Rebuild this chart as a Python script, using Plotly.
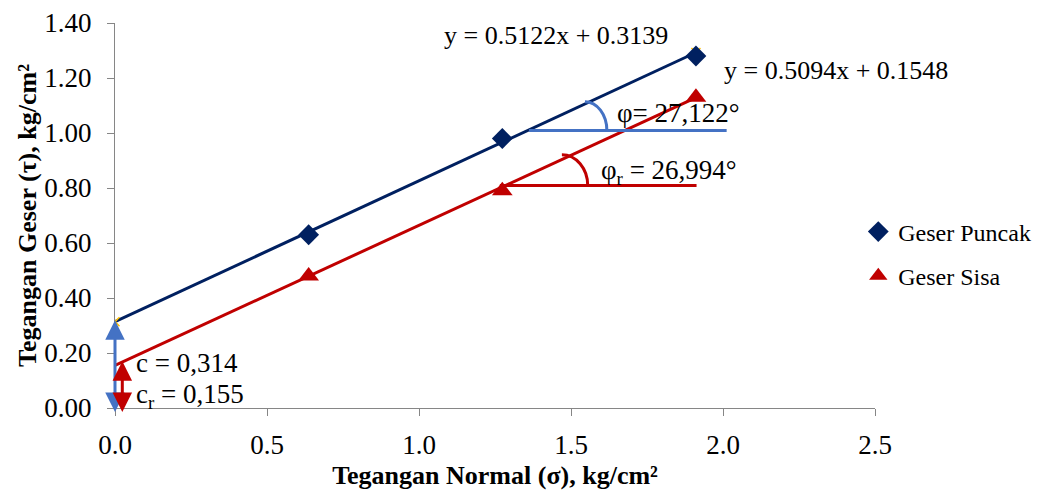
import numpy as np
import plotly.graph_objects as go

# ---- data ----
sigma = [0.637, 1.274, 1.911]               # normal stress, kg/cm2
tau_peak = [0.63, 0.98, 1.28]               # Geser Puncak
tau_resid = [0.48, 0.79, 1.13]              # Geser Sisa
slope_peak, icpt_peak = 0.5122, 0.3139
slope_resid, icpt_resid = 0.5094, 0.1548
c_peak, c_resid = 0.314, 0.155
phi_peak, phi_resid = "27,122", "26,994"
x_ticks = [0.0, 0.5, 1.0, 1.5, 2.0, 2.5]
y_ticks = [0.0, 0.2, 0.4, 0.6, 0.8, 1.0, 1.2, 1.4]

NAVY = "#002060"
RED = "#C00000"
LBLUE = "#4472C4"
YEL = "#FFC000"
FONT = "Liberation Serif"

fig = go.Figure()

# trendlines (from fitted equations)
xfit = np.array([0.0, sigma[-1]])
fig.add_trace(go.Scatter(x=xfit, y=slope_peak * xfit + icpt_peak, mode="lines",
                         line=dict(color=NAVY, width=3), showlegend=False, hoverinfo="skip"))
fig.add_trace(go.Scatter(x=xfit, y=slope_resid * xfit + icpt_resid, mode="lines",
                         line=dict(color=RED, width=3), showlegend=False, hoverinfo="skip"))
# small trendline end markers
fig.add_trace(go.Scatter(x=xfit, y=slope_peak * xfit + icpt_peak, mode="markers",
                         marker=dict(symbol="x-thin", size=9, line=dict(color=YEL, width=1.5)),
                         showlegend=False, hoverinfo="skip"))

# data points
fig.add_trace(go.Scatter(x=sigma, y=tau_peak, mode="markers", name="Geser Puncak",
                         legendgroup="a",
                         marker=dict(symbol="diamond", size=16, color=NAVY)))
fig.add_trace(go.Scatter(x=sigma, y=tau_resid, mode="markers", name="Geser Sisa",
                         legendgroup="b",
                         marker=dict(symbol="triangle-up", size=18, color=RED)))

# horizontal reference lines for friction angle
shapes = [
    dict(type="line", xref="x", yref="y", x0=1.362, x1=2.012, y0=1.009, y1=1.009,
         line=dict(color=LBLUE, width=3)),
    dict(type="line", xref="x", yref="y", x0=1.266, x1=1.913, y0=0.809, y1=0.809,
         line=dict(color=RED, width=3)),
]

def quarter_arc(cx, cy, rx, ry, color):
    k = 0.5523
    p = (f"M {cx},{cy + ry} C {cx + k * rx},{cy + ry} {cx + rx},{cy + k * ry} "
         f"{cx + rx},{cy}")
    return dict(type="path", xref="x", yref="y", path=p, line=dict(color=color, width=3))

shapes.append(quarter_arc(1.546, 1.009, 0.072, 0.105, LBLUE))
shapes.append(quarter_arc(1.470, 0.809, 0.085, 0.112, RED))

ef = dict(family=FONT, size=26, color="black")
af = dict(family=FONT, size=27, color="black")
tick_f = dict(family=FONT, size=27, color="black")
title_f = dict(family=FONT, size=26, color="black")

annotations = [
    dict(x=1.076, y=1.355, xref="x", yref="y", text=f"y = {slope_peak}x + {icpt_peak}",
         showarrow=False, xanchor="left", yanchor="middle", font=ef),
    dict(x=1.997, y=1.227, xref="x", yref="y", text=f"y = {slope_resid}x + {icpt_resid}",
         showarrow=False, xanchor="left", yanchor="middle", font=ef),
    dict(x=1.645, y=1.071, xref="x", yref="y", text=f"φ= {phi_peak}°",
         showarrow=False, xanchor="left", yanchor="middle", font=af),
    dict(x=1.592, y=0.86, xref="x", yref="y", text=f"φ<sub>r</sub> = {phi_resid}°",
         showarrow=False, xanchor="left", yanchor="middle", font=af),
    dict(x=0.063, y=0.162, xref="x", yref="y", text=f"c = {str(c_peak).replace('.', ',')}",
         showarrow=False, xanchor="left", yanchor="middle", font=af),
    dict(x=0.063, y=0.045, xref="x", yref="y",
         text=f"c<sub>r</sub> = {str(c_resid).replace('.', ',')}",
         showarrow=False, xanchor="left", yanchor="middle", font=af),
    # cohesion arrows
    dict(x=0.0, y=c_peak + 0.005, ax=0.0, ay=-0.02, xref="x", yref="y", axref="x", ayref="y",
         showarrow=True, arrowhead=2, startarrowhead=2, arrowside="end+start",
         arrowwidth=3, arrowsize=1.3, startarrowsize=1.3, arrowcolor=LBLUE, text=""),
    dict(x=0.024, y=c_resid + 0.015, ax=0.024, ay=-0.02, xref="x", yref="y", axref="x", ayref="y",
         showarrow=True, arrowhead=2, startarrowhead=2, arrowside="end+start",
         arrowwidth=3, arrowsize=1.3, startarrowsize=1.3, arrowcolor=RED, text=""),
]

axis_common = dict(showline=True, linecolor="#868686", linewidth=1, ticks="outside",
                   ticklen=7, tickcolor="#868686", showgrid=False, zeroline=False,
                   tickfont=tick_f, automargin=False)

fig.update_layout(
    width=1034, height=482,
    margin=dict(l=107, r=167, t=15, b=82, autoexpand=False),
    plot_bgcolor="white", paper_bgcolor="white",
    font=dict(family=FONT, size=24, color="black"),
    shapes=shapes, annotations=annotations,
    xaxis=dict(range=[0, 2.5], tickvals=x_ticks, tickformat=".1f",
               title=dict(text="<b>Tegangan Normal (σ), kg/cm²</b>", font=title_f, standoff=9),
               ticklabelstandoff=6, **axis_common),
    yaxis=dict(range=[0, 1.4], tickvals=y_ticks, tickformat=".2f",
               title=dict(text="<b>Tegangan Geser (τ), kg/cm²</b>", font=title_f, standoff=0),
               ticklabelstandoff=10, **axis_common),
    legend=dict(x=0.978, y=0.4, xanchor="left", yanchor="middle",
                font=dict(family=FONT, size=24, color="black"),
                tracegroupgap=10, bgcolor="rgba(0,0,0,0)", borderwidth=0),
    showlegend=True,
)

fig.write_html("out.html")
